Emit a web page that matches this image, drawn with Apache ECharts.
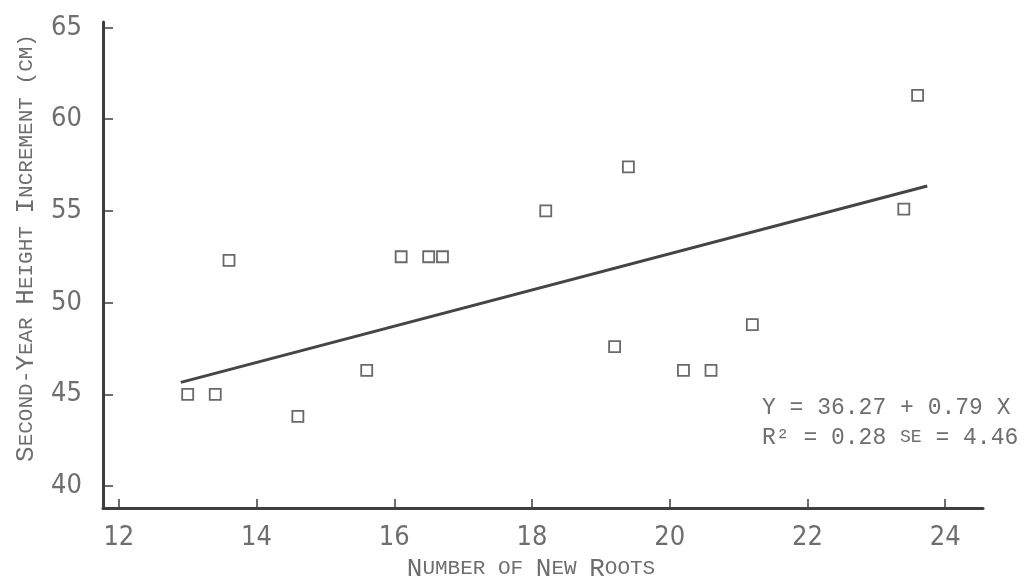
<!DOCTYPE html>
<html>
<head>
<meta charset="utf-8">
<script src="https://cdn.jsdelivr.net/npm/echarts@6/dist/echarts.min.js"></script>
<style>
  html, body { margin: 0; padding: 0; background: #ffffff; }
  #chart { width: 1030px; height: 579px; }
</style>
</head>
<body>
<div id="chart"></div>
<script>
// Data
var newRoots = [13.0, 13.4, 13.6, 14.6, 15.6, 16.1, 16.5, 16.7, 18.2, 19.2, 19.4, 20.2, 20.6, 21.2, 23.4, 23.6];
var heightIncrement = [45.0, 45.0, 52.3, 43.8, 46.3, 52.5, 52.5, 52.5, 55.0, 47.6, 57.4, 46.3, 46.3, 48.8, 55.1, 61.3];
var fitLineX = [12.9, 23.74];
var fitLineY = [45.65, 56.36];
var xTicks = [12, 14, 16, 18, 20, 22, 24];
var yTicks = [40, 45, 50, 55, 60, 65];
var equationLine1 = 'Y = 36.27 + 0.79 X';

var points = newRoots.map(function (x, i) { return [x, heightIncrement[i]]; });
var fitLine = fitLineX.map(function (x, i) { return [x, fitLineY[i]]; });

var textColor = '#6e6e6e';
var inkColor = '#3f3f3f';
var narrow = '"Liberation Sans Narrow", "DejaVu Sans Condensed", "Roboto Condensed", sans-serif';
var mono = '"Liberation Mono", "DejaVu Sans Mono", monospace';

var chart = echarts.init(document.getElementById('chart'), null, { renderer: 'canvas' });
chart.setOption({
  backgroundColor: '#ffffff',
  animation: false,
  grid: { left: 103, right: 47, top: 22, bottom: 71, outerBoundsMode: 'none', containLabel: false },
  xAxis: {
    type: 'value',
    min: 11.77,
    max: 24.55,
    name: '{b|N}{s|UMBER OF }{b|N}{s|EW }{b|R}{s|OOTS}',
    nameLocation: 'middle',
    nameGap: 44,
    nameTextStyle: {
      padding: [0, 24, 0, 0],
      rich: {
        b: { fontFamily: mono, fontSize: 26, color: textColor },
        s: { fontFamily: mono, fontSize: 21, color: textColor }
      }
    },
    splitLine: { show: false },
    axisLine: { show: true, onZero: false, lineStyle: { color: inkColor, width: 3 } },
    axisTick: { show: true, inside: true, length: 9, customValues: xTicks, lineStyle: { color: inkColor, width: 1.5 } },
    axisLabel: { customValues: xTicks, margin: 16, fontFamily: narrow, fontSize: 27, color: textColor }
  },
  yAxis: {
    type: 'value',
    min: 38.8,
    max: 65.3,
    name: '{b|S}{s|ECOND-}{b|Y}{s|EAR }{b|H}{s|EIGHT }{b|I}{s|NCREMENT (CM)}',
    nameLocation: 'middle',
    nameGap: 64,
    nameRotate: 90,
    nameTextStyle: {
      padding: [0, 0, 0, 34],
      rich: {
        b: { fontFamily: mono, fontSize: 26, color: textColor },
        s: { fontFamily: mono, fontSize: 21, color: textColor }
      }
    },
    splitLine: { show: false },
    axisLine: { show: true, onZero: false, lineStyle: { color: inkColor, width: 3 } },
    axisTick: { show: true, inside: true, length: 10, customValues: yTicks, lineStyle: { color: inkColor, width: 1.5 } },
    axisLabel: { customValues: yTicks, margin: 21, fontFamily: narrow, fontSize: 27, color: textColor }
  },
  series: [
    {
      type: 'line',
      data: fitLine,
      symbol: 'none',
      silent: true,
      lineStyle: { color: '#454545', width: 3 }
    },
    {
      type: 'scatter',
      data: points,
      symbol: 'rect',
      symbolSize: 11,
      itemStyle: { color: '#ffffff', borderColor: '#444444', borderWidth: 1.8 }
    }
  ],
  graphic: [
    {
      type: 'text',
      left: 762,
      top: 396,
      style: { text: equationLine1, font: '23px ' + mono, fill: textColor }
    },
    {
      type: 'text',
      left: 762,
      top: 426,
      style: {
        text: '{n|R\u00B2 = 0.28 }{s|SE}{n| = 4.46}',
        rich: {
          n: { fontFamily: mono, fontSize: 23, fill: textColor, color: textColor },
          s: { fontFamily: mono, fontSize: 18, fill: textColor, color: textColor }
        }
      }
    }
  ]
});
</script>
</body>
</html>
